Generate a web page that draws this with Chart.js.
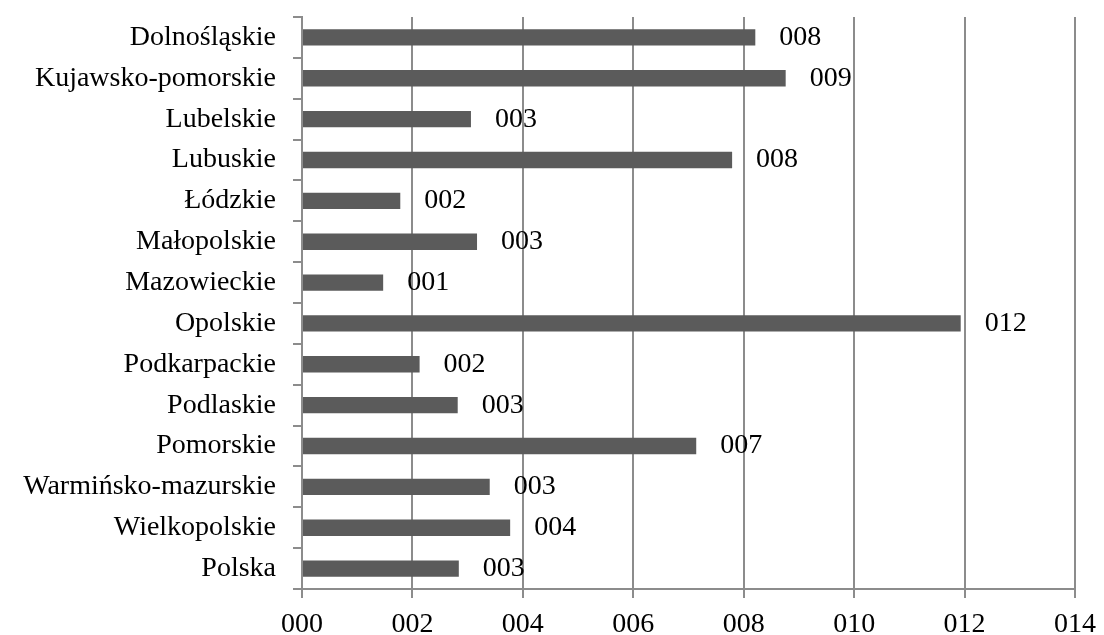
<!DOCTYPE html>
<html>
<head>
<meta charset="utf-8">
<script src="https://cdn.jsdelivr.net/npm/chart.js@4"></script>
<style>
  html, body { margin: 0; padding: 0; background: #fff; }
  #wrap { width: 1104px; height: 635px; }
</style>
</head>
<body>
<div id="wrap"><canvas id="chart"></canvas></div>
<script>
const regions = ["Dolnośląskie", "Kujawsko-pomorskie", "Lubelskie", "Lubuskie", "Łódzkie",
  "Małopolskie", "Mazowieckie", "Opolskie", "Podkarpackie", "Podlaskie", "Pomorskie",
  "Warmińsko-mazurskie", "Wielkopolskie", "Polska"];
const values = [8.21, 8.76, 3.06, 7.79, 1.78, 3.17, 1.47, 11.93, 2.13, 2.82, 7.14, 3.40, 3.77, 2.84];
const xTicks = [0, 2, 4, 6, 8, 10, 12, 14];

const fontFamily = "'Liberation Serif', 'Times New Roman', serif";
const pad3 = v => String(Math.round(v)).padStart(3, "0");

// value labels to the right of each bar
const barLabels = {
  id: "barLabels",
  afterDatasetsDraw(chart) {
    const ctx = chart.ctx;
    const meta = chart.getDatasetMeta(0);
    ctx.save();
    ctx.font = "28px " + fontFamily;
    ctx.fillStyle = "#000";
    ctx.textAlign = "left";
    ctx.textBaseline = "middle";
    meta.data.forEach((bar, i) => {
      ctx.fillText(pad3(values[i]), bar.x + 24, bar.y);
    });
    ctx.restore();
  }
};

new Chart(document.getElementById("chart"), {
  type: "bar",
  data: {
    labels: regions,
    datasets: [{
      data: values,
      backgroundColor: "#5b5b5b",
      barPercentage: 0.4,
      categoryPercentage: 1
    }]
  },
  options: {
    indexAxis: "y",
    responsive: true,
    maintainAspectRatio: false,
    animation: false,
    layout: { padding: { top: 17, right: 29, bottom: 0, left: 0 } },
    plugins: { legend: { display: false }, tooltip: { enabled: false } },
    scales: {
      x: {
        min: 0,
        max: 14,
        afterBuildTicks: s => { s.ticks = xTicks.map(v => ({ value: v })); },
        afterFit: s => { s.height = 46; s.paddingLeft = 0; s.paddingRight = 0; },
        grid: { color: "#8c8c8c", lineWidth: 2, tickLength: 9, drawTicks: true },
        border: { color: "#8c8c8c", width: 2 },
        ticks: {
          color: "#000",
          padding: 10,
          font: { family: fontFamily, size: 28 },
          callback: v => pad3(v)
        }
      },
      y: {
        afterFit: s => { s.width = 302; s.paddingTop = 0; s.paddingBottom = 0; },
        grid: { drawOnChartArea: false, drawTicks: true, tickLength: 9, color: "#8c8c8c", lineWidth: 2, offset: true },
        border: { color: "#8c8c8c", width: 2 },
        ticks: {
          color: "#000",
          padding: 17,
          font: { family: fontFamily, size: 28 }
        }
      }
    }
  },
  plugins: [barLabels]
});
</script>
</body>
</html>
